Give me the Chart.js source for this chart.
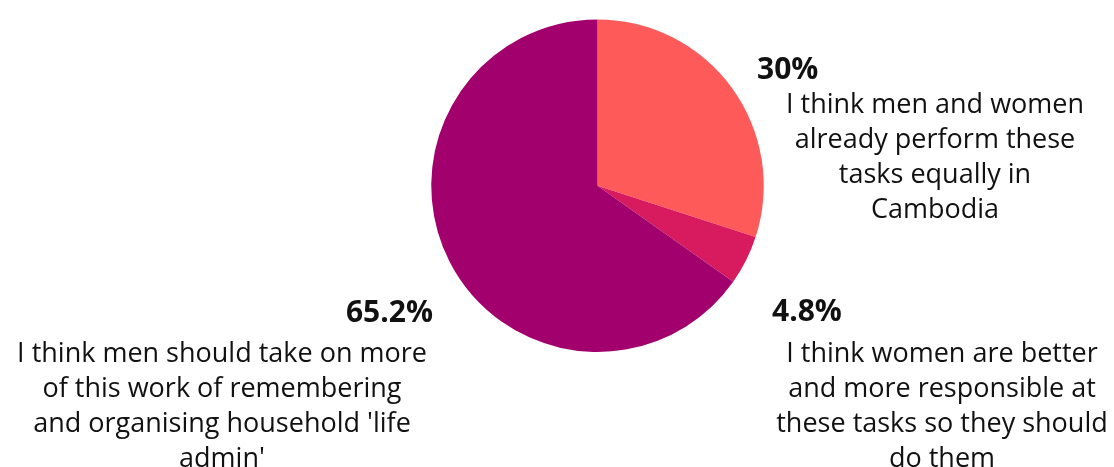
<!DOCTYPE html>
<html>
<head>
<meta charset="utf-8">
<script src="https://cdn.jsdelivr.net/npm/chart.js@4/dist/chart.umd.min.js"></script>
<style>
  html, body { margin: 0; padding: 0; background: #ffffff; }
  #wrap { width: 1114px; height: 467px; position: relative; }
</style>
</head>
<body>
<div id="wrap"><canvas id="pie"></canvas></div>
<script>
// Survey answers, clockwise from twelve o'clock
const categories = [
  "I think men and women already perform these tasks equally in Cambodia",
  "I think women are better and more responsible at these tasks so they should do them",
  "I think men should take on more of this work of remembering and organising household 'life admin'"
];
const shares = [30, 4.8, 65.2];
const shareLabels = ["30%", "4.8%", "65.2%"];
const sliceColors = ["#FF5A5A", "#D81A5F", "#A1006D"];

// Wrapped lines for each answer label
const labelLines = [
  ["I think men and women", "already perform these", "tasks equally in", "Cambodia"],
  ["I think women are better", "and more responsible at", "these tasks so they should", "do them"],
  ["I think men should take on more", "of this work of remembering", "and organising household 'life", "admin'"]
];

// Where each label block sits: percentage anchor + centred text block
const labelLayout = [
  { pctX: 757, pctY: 70, pctAlign: "left", textX: 935, textY: 105 },
  { pctX: 772, pctY: 312, pctAlign: "left", textX: 942, textY: 354 },
  { pctX: 433, pctY: 313, pctAlign: "right", textX: 222, textY: 354 }
];

const FONT = "'Open Sans', sans-serif";

const calloutPlugin = {
  id: "callouts",
  afterDraw(chart) {
    const ctx = chart.ctx;
    ctx.save();
    ctx.fillStyle = "#111111";
    ctx.textBaseline = "middle";
    labelLayout.forEach((pos, i) => {
      ctx.font = "bold 30px " + FONT;
      ctx.textAlign = pos.pctAlign;
      ctx.fillText(shareLabels[i], pos.pctX, pos.pctY);
      ctx.font = "27px " + FONT;
      ctx.textAlign = "center";
      labelLines[i].forEach((line, j) => {
        ctx.fillText(line, pos.textX, pos.textY + j * 35);
      });
    });
    ctx.restore();
  }
};

new Chart(document.getElementById("pie"), {
  type: "pie",
  data: {
    labels: categories,
    datasets: [{
      data: shares,
      backgroundColor: sliceColors,
      borderWidth: 0
    }]
  },
  options: {
    responsive: true,
    maintainAspectRatio: false,
    animation: false,
    layout: { padding: { left: 431, right: 350, top: 19.5, bottom: 115 } },
    plugins: {
      legend: { display: false },
      tooltip: { enabled: false }
    }
  },
  plugins: [calloutPlugin]
});
</script>
</body>
</html>
